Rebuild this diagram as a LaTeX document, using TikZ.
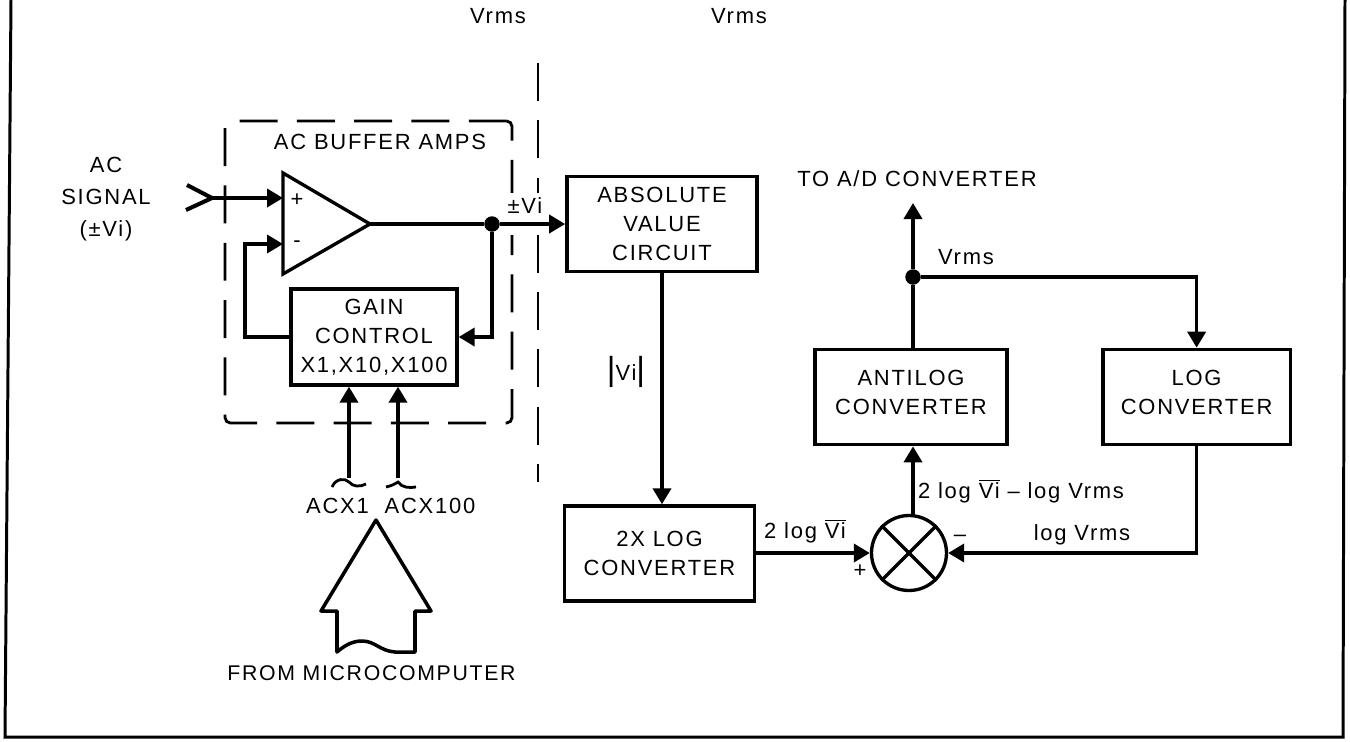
\documentclass[tikz,border=0pt]{standalone}
\usepackage{amsmath}
\usepackage{fontspec}
\setmainfont[LetterSpace=8]{Liberation Sans}
\usetikzlibrary{arrows.meta, positioning}

\begin{document}
\begin{tikzpicture}[x=0.02cm, y=-0.02cm]
\tikzstyle{txt}=[font=\fontsize{12.5}{16.5}\selectfont, align=center, inner sep=0pt]
\tikzstyle{box}=[txt, rectangle, draw, line width=2.1pt, minimum width=3.8cm, minimum height=1.9cm]
\tikzstyle{sig}=[line width=2.1pt]
\tikzstyle{sigarrow}=[sig, -{Triangle[length=0.32cm, width=0.36cm]}]
\tikzstyle{dot}=[circle, fill=black, inner sep=0pt, minimum size=0.31cm]
\tikzstyle{dashes}=[line width=1.6pt, dash pattern=on 21.6pt off 11pt]

\useasboundingbox (0,0) rectangle (1350,741);

% outer frame, open at the top
\coordinate (frameA) at (11,0);
\coordinate (frameB) at (5,737);
\coordinate (frameC) at (1343,737);
\coordinate (frameD) at (1345,0);
\draw[line width=1.7pt] (frameA) -- (frameB) -- (frameC) -- (frameD);

\node[txt] (vrmsA) at (498,16) {Vrms};
\node[txt] (vrmsB) at (739,16) {Vrms};

% dashed partitions
\node[draw, dashes, rounded corners=3pt, minimum width=5.74cm, minimum height=6.04cm] (buffer) at (368.5,272) {};
\coordinate (partA) at (538,63);
\coordinate (partB) at (538,482);
\draw[dashes] (partA) -- (partB);
\node[fill=white, minimum width=0.8cm, minimum height=0.84cm] (gap) at (525,214) {};
\node[txt] (pmvi) at (525,206) {±Vi};
\node[txt] (bufname) at (380,142) {AC BUFFER AMPS};

% amplifier
\coordinate (ampA) at (283,173);
\coordinate (ampB) at (283,274);
\coordinate (ampout) at (370,224);
\coordinate (inp) at (283,198);
\coordinate (inm) at (283,244);
\draw[line width=1.9pt] (ampA) -- (ampout) -- (ampB) -- cycle;
\node[txt] (plus) at (297,200) {+};
\node[txt] (minus) at (297,244) {-};

% input jack
\node[txt] (acsig) at (106,199) {AC\\[1.5pt]SIGNAL\\[1.5pt](±Vi)};
\coordinate (jackA) at (187,185);
\coordinate (jackB) at (212,198);
\coordinate (jackC) at (186,210);
\draw[line width=2.3pt] (jackA) -- (jackB) -- (jackC);
\draw[sigarrow] (jackB) -- (inp);

% blocks
\node[box, minimum width=3.32cm, minimum height=1.92cm, line width=1.9pt] (gain) at (374,337) {GAIN\\CONTROL\\X1,X10,X100};
\node[box] (abs) at (662,224) {ABSOLUTE\\VALUE\\CIRCUIT};
\node[box, below=4.62cm of abs, xshift=-0.05cm] (logx) {2X LOG\\CONVERTER};
\node[box, minimum width=3.84cm] (anti) at (911,397) {ANTILOG\\CONVERTER\\[-11pt]\mbox{}};
\node[box, minimum width=3.76cm, right=1.84cm of anti] (logc) {LOG\\CONVERTER\\[-11pt]\mbox{}};
\node[circle, draw, line width=1.9pt, inner sep=0pt, minimum size=1.5cm] (mixer) at (909,553) {};
\draw[line width=1.9pt] (mixer.45) -- (mixer.225);
\draw[line width=1.9pt] (mixer.135) -- (mixer.315);

% connections
\node[dot] (juncA) at (492,224) {};
\node[dot] (juncB) at (913,277) {};
\coordinate (fbturn) at (245,244);
\coordinate (toadc) at (913,203);
\coordinate (mixup) at (913,516);
\draw[sig] (ampout) -- (juncA);
\draw[sigarrow] (juncA) -- (abs.west);
\draw[sigarrow] (juncA) |- (gain.east);
\draw[sigarrow] (gain.west) -| (fbturn) -- (inm);
\draw[sigarrow] (abs.south) -- (abs.south |- logx.north);
\draw[sigarrow] (logx.east |- mixer.west) -- (mixer.west);
\draw[sigarrow] (logc.south) |- (mixer.east);
\draw[sigarrow] (mixup) -- (mixup |- anti.south);
\draw[sig] (juncB |- anti.north) -- (juncB);
\draw[sigarrow] (juncB) -- (toadc);
\draw[sigarrow] (juncB) -| (logc.north);

% control lines
\coordinate (acxA) at (349,478);
\coordinate (acxB) at (398,478);
\draw[sigarrow] (acxA) -- (acxA |- gain.south);
\draw[sigarrow] (acxB) -- (acxB |- gain.south);
\draw[line width=1.6pt] (332,487) .. controls (336,478) and (345,478) .. (349,482) .. controls (353,487) and (360,487) .. (366,484);
\draw[line width=1.6pt] (386,487) .. controls (391,486) and (395,484) .. (398,482) .. controls (402,488) and (410,488) .. (416,487);
\node[txt] (acxa) at (337.5,506) {ACX1};
\node[txt] (acxc) at (430,506) {ACX100};

% bus arrow
\draw[line width=2pt, line join=round] (337,652) -- (337,611) -- (321,611) -- (376,520) -- (431,611) -- (415,611) -- (415,652) -- (395,652) .. controls (380,651) and (375,641) .. (362,641) .. controls (353,641) and (345,645) .. (337,652) -- cycle;
\node[txt, font=\fontsize{12.1}{16.5}\selectfont] (micro) at (371.5,673) {FROM MICROCOMPUTER};

% labels
\node[txt] (toad) at (917,179) {TO A/D CONVERTER};
\node[txt] (vrmsC) at (966,257) {Vrms};
\node[txt] (absvi) at (626,372) {{\fontsize{19}{19}\selectfont|}Vi{\fontsize{19}{19}\selectfont|}};
\node[txt] (twolog) at (805,531) {2 log $\overline{\text{Vi}}$};
\node[txt] (diff) at (1021,491) {2 log $\overline{\text{Vi}}$ -- log Vrms};
\node[txt] (logv) at (1082,535) {log Vrms};
\node[txt] (mixm) at (960,538) {--};
\node[txt] (mixp) at (860,571) {+};
\end{tikzpicture}
\end{document}
